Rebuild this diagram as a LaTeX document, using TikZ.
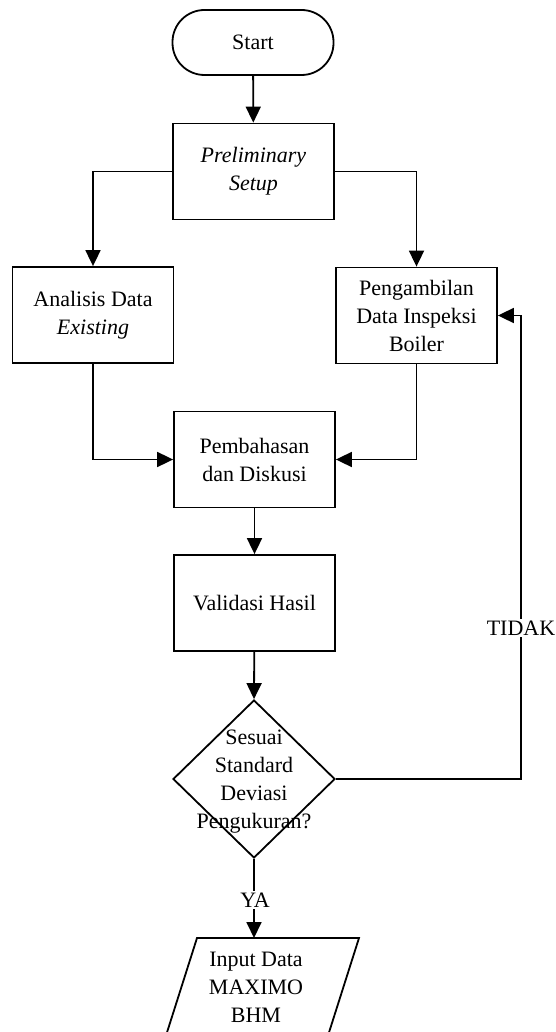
\documentclass[tikz,border=0pt]{standalone}
\usepackage{fontspec}
\setmainfont{Liberation Serif}
\usetikzlibrary{shapes.geometric,arrows.meta}
\begin{document}
\begin{tikzpicture}[x=1pt,y=-1pt,
  every node/.style={font=\fontsize{22}{28}\selectfont},
  ln/.style={line width=1.8pt},
  arr/.style={ln,-{Triangle[length=16pt,width=15pt]}},
  procbox/.style={draw,line width=1.8pt,rectangle,minimum width=161pt,minimum height=96pt,align=center,inner sep=0pt},
  termbox/.style={draw,line width=1.8pt,rectangle,rounded corners=32pt,minimum width=161pt,minimum height=65pt,inner sep=0pt},
  decbox/.style={draw,line width=1.8pt,diamond,minimum width=162pt,minimum height=158pt,inner sep=0pt},
  lbl/.style={fill=white,inner sep=2pt}]
\useasboundingbox (0,0) rectangle (556,1032);
\clip (0,0) rectangle (556,1032);

\node[termbox] (start) at (253,42.5) {Start};
\node[procbox] (pre) at (253.5,171.5) {\textit{Preliminary}\\\textit{Setup}};
\node[procbox] (ana) at (93,315) {Analisis Data\\\textit{Existing}};
\node[procbox] (pen) at (416.5,315.5) {Pengambilan\\Data Inspeksi\\Boiler};
\node[procbox] (pem) at (254.5,459.5) {Pembahasan\\dan Diskusi};
\node[procbox] (val) at (254.5,603) {Validasi Hasil};
\node[decbox] (dec) at (254,779) {};
\node[align=center,inner sep=0pt] (dectxt) at (254,782) {Sesuai\\Standard\\Deviasi\\Pengukuran?};

\coordinate (iotop) at (254,938);
\draw[ln] (197,938) -- (359,938) -- (325,1045) -- (163,1045) -- cycle;
\node[align=center,inner sep=0pt] (io) at (256,987) {Input Data\\MAXIMO\\BHM};

\coordinate (loop) at (521,779);

\draw[arr] (start) -- (pre);
\draw[arr] (pre.west) -| (ana.north);
\draw[arr] (pre.east) -| (pen.north);
\draw[arr] (ana.south) |- (pem.west);
\draw[arr] (pen.south) |- (pem.east);
\draw[arr] (pem) -- (val);
\draw[arr] (val) -- (dec.north);
\draw[arr] (dec.east) -- (loop) |- (pen.east);
\node[lbl] (tidak) at (521,628) {TIDAK};
\draw[arr] (dec.south) -- (iotop);
\node[lbl] (ya) at (255,900) {YA};
\end{tikzpicture}
\end{document}
